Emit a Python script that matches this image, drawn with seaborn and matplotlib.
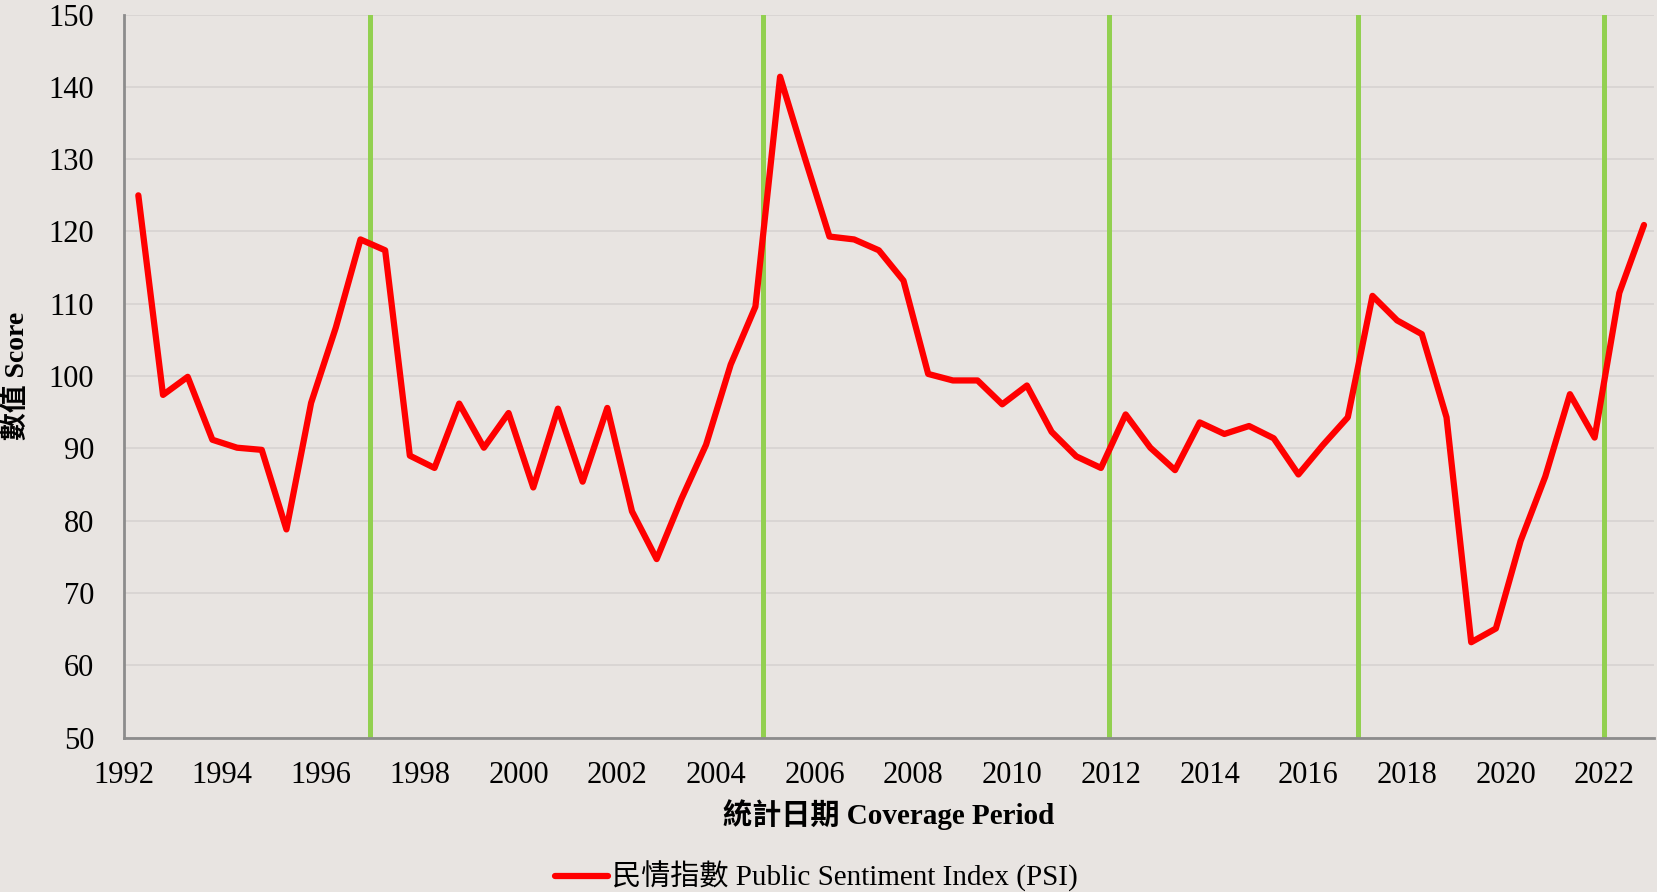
import numpy as np
import pandas as pd
import matplotlib
matplotlib.use("Agg")
import matplotlib.pyplot as plt
import seaborn as sns

# ---- data ----
start_year = 1992.3
psi_values = [125.0, 97.4, 99.9, 91.2, 90.1, 89.8, 78.8, 96.3, 106.7, 118.9,
              117.4, 89.0, 87.3, 96.2, 90.1, 94.9, 84.6, 95.5, 85.4, 95.6,
              81.3, 74.7, 83.0, 90.5, 101.6, 109.6, 141.4, 130.2, 119.3, 118.9,
              117.4, 113.2, 100.3, 99.4, 99.4, 96.1, 98.7, 92.3, 88.9, 87.3,
              94.7, 90.1, 87.0, 93.6, 92.0, 93.1, 91.4, 86.4, 90.5, 94.3,
              111.1, 107.7, 105.8, 94.3, 63.2, 65.1, 77.2, 86.1, 97.5, 91.5,
              111.5, 120.9]
periods = [start_year + 0.5 * i for i in range(len(psi_values))]
green_lines = [1997.0, 2004.96, 2011.97, 2017.0, 2022.0]
x_ticks = list(range(1992, 2023, 2))
y_ticks = list(range(50, 151, 10))
series_label = "民情指數 Public Sentiment Index (PSI)"
x_label = "統計日期 Coverage Period"
y_label = "數值 Score"

df = pd.DataFrame({"period": periods, "psi": psi_values, "series": series_label})

bg = "#E8E4E1"
sns.set_style("white", {"axes.facecolor": bg, "figure.facecolor": bg,
                        "text.color": "black", "axes.labelcolor": "black",
                        "xtick.color": "black", "ytick.color": "black"})
plt.rcParams["font.family"] = ["Liberation Serif", "Noto Sans CJK TC", "DejaVu Sans"]

fig = plt.figure(figsize=(16.58, 8.92), dpi=100)
ax = fig.add_axes([0.0745, 0.173, 0.923, 0.8107])
ax.set_facecolor(bg)

for gx in green_lines:
    ax.axvline(gx, color="#92D050", lw=3.6, zorder=2)

sns.lineplot(data=df, x="period", y="psi", hue="series", palette=["#FF0000"],
             lw=4.5, ax=ax, zorder=3, legend=True)

ax.set_xlim(1992, 2023)
ax.set_ylim(50, 150)
ax.set_xticks(x_ticks)
ax.set_yticks(y_ticks)
ax.yaxis.grid(True, color="#D6D3D1", lw=1.2)
ax.xaxis.grid(False)
for s in ["top", "right"]:
    ax.spines[s].set_visible(False)
for s in ["left", "bottom"]:
    ax.spines[s].set_color("#8C8C8C")
    ax.spines[s].set_linewidth(2)
ax.tick_params(axis="both", which="both", length=7, width=1.5, color="#8C8C8C",
               labelcolor="black", labelsize=22, direction="out")
ax.tick_params(axis="x", pad=10)
ax.tick_params(axis="y", pad=14)

ax.set_xlabel(x_label, fontsize=21, fontweight="bold", labelpad=6)
ax.set_ylabel(y_label, fontsize=20, fontweight="bold")
ax.yaxis.set_label_coords(-0.061, 0.5)

leg = ax.legend(loc="lower center", bbox_to_anchor=(0.453, -0.25), frameon=False,
                fontsize=21, handlelength=1.8, handletextpad=0.15)
for line in leg.get_lines():
    line.set_linewidth(4.5)

fig.savefig("out.png", dpi=100, facecolor=bg)
